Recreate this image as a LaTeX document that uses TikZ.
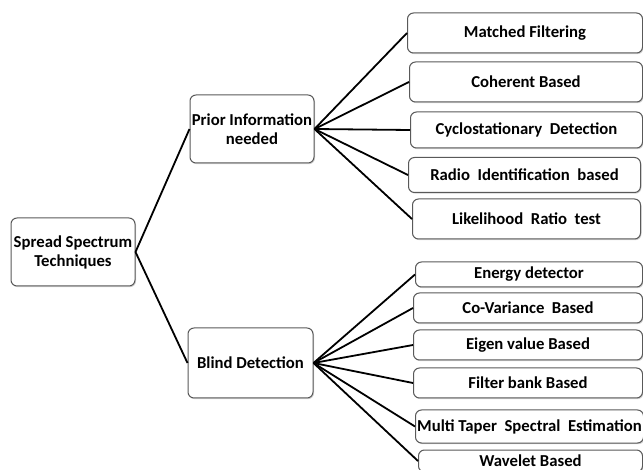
\documentclass[tikz,border=0pt]{standalone}
\usepackage{fontspec}
\setmainfont{Carlito}
\usepackage{tikz}
\usetikzlibrary{positioning,shadows}

\tikzset{
  box/.style={draw=black!65, line width=1pt, rounded corners=6pt, fill=white,
    align=center, inner sep=2pt,
    drop shadow={shadow xshift=1pt, shadow yshift=-1.2pt, opacity=0.35},
    font=\fontsize{16.7}{19}\selectfont\bfseries},
  leaf/.style={box, anchor=west},
  link/.style={line width=1.8pt, black}
}

\begin{document}
\begin{tikzpicture}[x=1pt,y=-1pt]
\useasboundingbox (0,0) rectangle (643,470);
\clip (0,0) rectangle (643,470);
% main boxes
\node[box, minimum width=124pt, minimum height=68pt, inner sep=0pt] (spread) at (73,252) {Spread Spectrum\\Techniques};
\node[box, minimum width=124pt, minimum height=68pt, inner sep=0pt] (prior) at (252,129) {Prior Information\\needed};
\node[box, minimum width=125pt, minimum height=70pt] (blind) at (250.5,363) {Blind Detection};
% prior information methods
\node[leaf, minimum width=235pt, minimum height=40pt] (matched) at (407,33) {Matched Filtering};
\node[leaf, minimum width=233pt, minimum height=40pt] (coherent) at (409,82) {Coherent Based};
\node[leaf, minimum width=232pt, minimum height=36pt] (cyclo) at (410,130) {Cyclostationary~ Detection};
\node[leaf, minimum width=232pt, minimum height=35pt] (radio) at (408,175) {Radio~ Identification~ based};
\node[leaf, minimum width=228pt, minimum height=40pt] (likely) at (412,219) {Likelihood~ Ratio~ test};
% blind methods
\node[leaf, minimum width=227pt, minimum height=25pt, inner sep=0pt] (energy) at (415,274.5) {Energy detector};
\node[leaf, minimum width=229pt, minimum height=30pt] (covar) at (413,308) {Co-Variance~ Based};
\node[leaf, minimum width=229pt, minimum height=30pt] (eigen) at (413,345) {Eigen value Based};
\node[leaf, minimum width=229pt, minimum height=30pt] (filter) at (413,383) {Filter bank Based};
\node[leaf, minimum width=228pt, minimum height=33pt, inner sep=0pt] (taper) at (415,426.5) {Multi Taper~ Spectral~ Estimation};
\node[leaf, minimum width=224pt, minimum height=22pt, inner sep=0pt] (wavelet) at (418,461) {Wavelet Based};
% connectors
\draw[link] (spread.east) -- (prior.west);
\draw[link] (spread.east) -- (blind.west);
\draw[link] (prior.east) -- (matched.west);
\draw[link] (prior.east) -- (coherent.west);
\draw[link] (prior.east) -- (cyclo.west);
\draw[link] (prior.east) -- (radio.west);
\draw[link] (prior.east) -- (likely.west);
\draw[link] (blind.east) -- (energy.west);
\draw[link] (blind.east) -- (covar.west);
\draw[link] (blind.east) -- (eigen.west);
\draw[link] (blind.east) -- (filter.west);
\draw[link] (blind.east) -- (taper.west);
\draw[link] (blind.east) -- (wavelet.west);
\end{tikzpicture}
\end{document}
